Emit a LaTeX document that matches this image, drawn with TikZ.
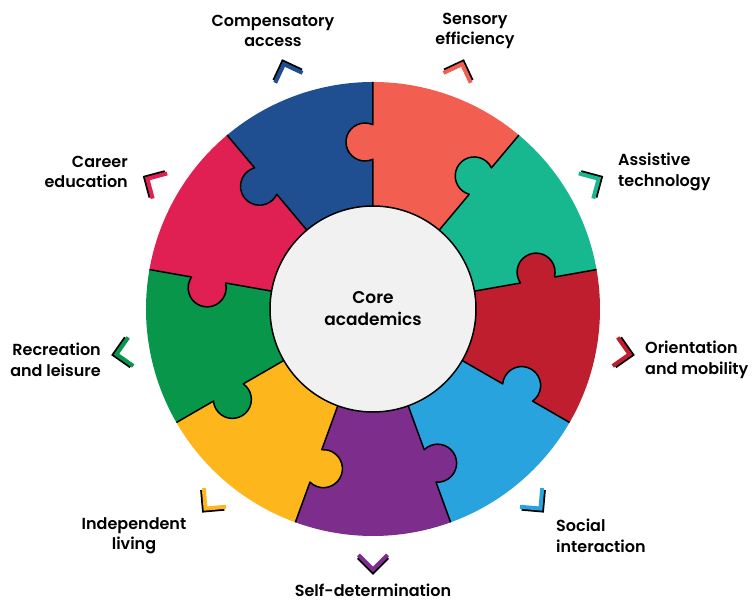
\documentclass[tikz,border=0pt]{standalone}
\usepackage{fontspec}
\setmainfont{Poppins}[UprightFont=* SemiBold]
\definecolor{cNavy}{RGB}{31,78,145}
\definecolor{cSalmon}{RGB}{242,95,80}
\definecolor{cTeal}{RGB}{23,184,144}
\definecolor{cDRed}{RGB}{190,30,45}
\definecolor{cBlue}{RGB}{41,163,221}
\definecolor{cPurple}{RGB}{125,45,140}
\definecolor{cYellow}{RGB}{253,183,29}
\definecolor{cGreen}{RGB}{8,150,74}
\definecolor{cCrimson}{RGB}{224,31,82}
\definecolor{cCore}{RGB}{241,241,241}
\begin{document}
\begin{tikzpicture}[x=1pt,y=1pt,
  bline/.style={draw=black,line width=1.5pt,line join=round},
  chev/.style={line width=4pt,line join=miter,line cap=butt},
  lbl/.style={font=\fontsize{16}{20.5}\selectfont,inner sep=0pt}]
\useasboundingbox (-373,-292) rectangle (382,309);
\def\ro{227}\def\ri{103}\def\rk{167}\def\kr{19}\def\kc{8}
\pgfmathsetmacro\kh{sqrt(\kr*\kr-\kc*\kc)}
\pgfmathsetmacro\kp{atan(\kc/\kh)}
% puzzle pieces
\foreach \a/\col in {50/cSalmon,10/cTeal,-30/cDRed,-70/cBlue,-110/cPurple,-150/cYellow,-190/cGreen,130/cCrimson,90/cNavy}{
  \pgfmathsetmacro\b{\a+40}
  \fill[\col] ({\a}:{\ri}) -- ({\a}:{\rk-\kh})
    arc[start angle={\a+180+\kp}, end angle={\a-\kp}, radius=\kr]
    -- ({\a}:{\ro}) arc[start angle=\a, end angle=\b, radius=\ro]
    -- ({\b}:{\rk+\kh})
    arc[start angle={\b-\kp}, end angle={\b+180+\kp}, radius=\kr]
    -- ({\b}:{\ri}) arc[start angle=\b, end angle=\a, radius=\ri] -- cycle;
}
% boundaries
\foreach \a in {50,10,-30,-70,-110,-150,-190,130,90}{
  \draw[bline] ({\a}:{\ri}) -- ({\a}:{\rk-\kh})
    arc[start angle={\a+180+\kp}, end angle={\a-\kp}, radius=\kr]
    -- ({\a}:{\ro});
}
% centre
\node[circle,draw=black,line width=1.5pt,fill=cCore,minimum size=206pt,inner sep=0pt,
  align=center,font=\fontsize{17}{22}\selectfont] (core) at (0,0) {Core\\academics};
% chevrons
\foreach \m/\col in {70/cSalmon,30/cTeal,-10/cDRed,-50/cBlue,-90/cPurple,-130/cYellow,-170/cGreen,150/cCrimson,110/cNavy}{
  \draw[chev,black,rotate=\m] (248.5,14.5) -- (263,0) -- (248.5,-14.5);
  \draw[chev,\col,rotate=\m] (246,14.5) -- (260.5,0) -- (246,-14.5);
}
% labels
\node[lbl,align=center] (l1) at (-100,278) {Compensatory\\access};
\node[lbl,align=center] (l2) at (102,278) {Sensory\\efficiency};
\node[lbl,align=left,anchor=west] (l3) at (245,137) {Assistive\\technology};
\node[lbl,align=left,anchor=west] (l4) at (272,-51) {Orientation\\and mobility};
\node[lbl,align=left,anchor=west] (l5) at (183,-227) {Social\\interaction};
\node[lbl,align=center] (l6) at (0,-281) {Self-determination};
\node[lbl,align=center] (l7) at (-239,-227) {Independent\\living};
\node[lbl,align=right,anchor=east] (l8) at (-272,-51) {Recreation\\and leisure};
\node[lbl,align=right,anchor=east] (l9) at (-245,137) {Career\\education};
\end{tikzpicture}
\end{document}
